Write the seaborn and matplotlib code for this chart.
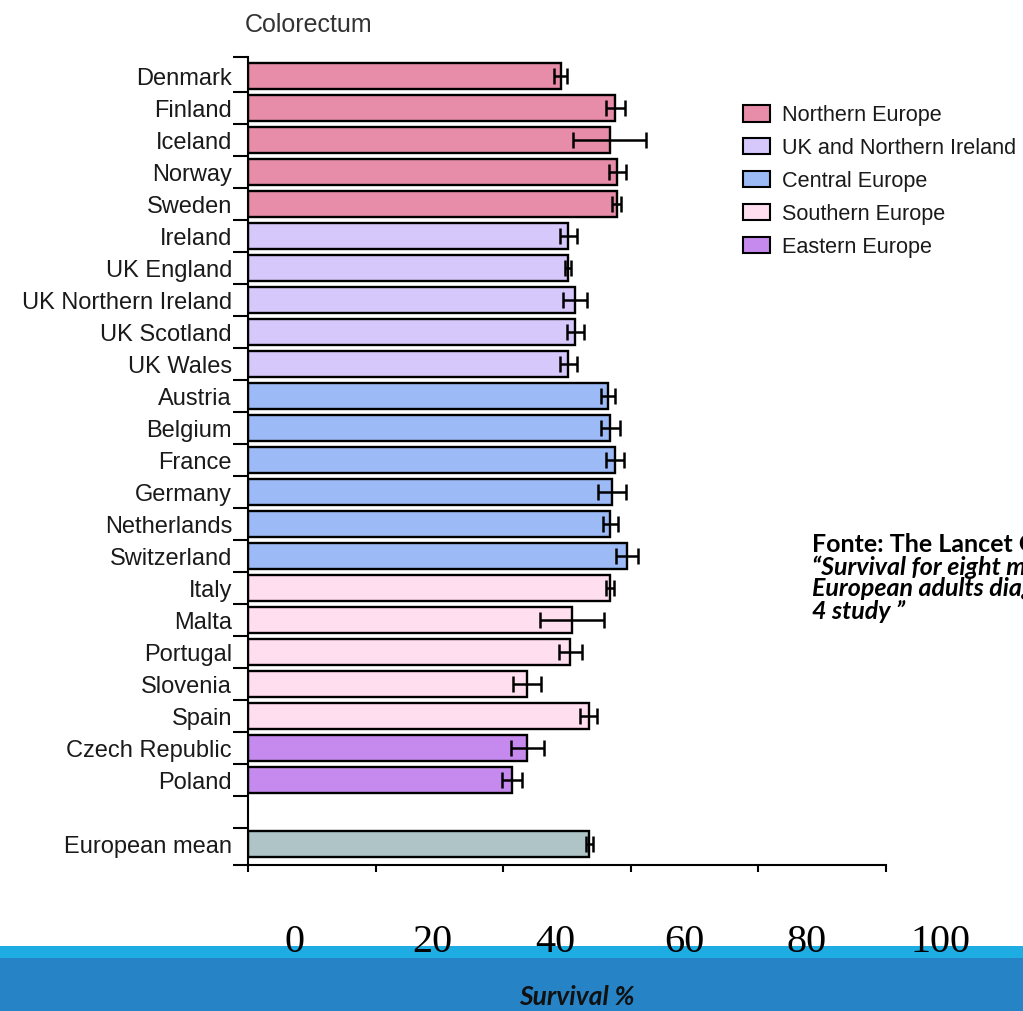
import matplotlib
matplotlib.use("Agg")
import matplotlib.pyplot as plt
from matplotlib.patches import Patch, Rectangle
import seaborn as sns
import pandas as pd

# Five-year relative survival, colorectal cancer (EUROCARE-4)
countries = ["Denmark", "Finland", "Iceland", "Norway", "Sweden",
             "Ireland", "UK England", "UK Northern Ireland", "UK Scotland", "UK Wales",
             "Austria", "Belgium", "France", "Germany", "Netherlands", "Switzerland",
             "Italy", "Malta", "Portugal", "Slovenia", "Spain",
             "Czech Republic", "Poland", "European mean"]
regions = (["Northern Europe"] * 5 + ["UK and Northern Ireland"] * 5 +
           ["Central Europe"] * 6 + ["Southern Europe"] * 5 +
           ["Eastern Europe"] * 2 + ["European mean"])
survival = [49.0, 57.6, 56.7, 57.9, 57.8,
            50.2, 50.2, 51.3, 51.3, 50.2,
            56.4, 56.8, 57.5, 57.1, 56.8, 59.4,
            56.7, 50.8, 50.5, 43.8, 53.4,
            43.8, 41.4, 53.5]
ci_half = [1.0, 1.5, 5.7, 1.3, 0.7,
           1.3, 0.5, 1.9, 1.3, 1.3,
           1.1, 1.5, 1.4, 2.2, 1.2, 1.7,
           0.6, 5.0, 1.8, 2.2, 1.3,
           2.6, 1.6, 0.6]

region_colors = {
    "Northern Europe": "#E78CA9",
    "UK and Northern Ireland": "#D6C8FB",
    "Central Europe": "#9CBAF5",
    "Southern Europe": "#FFDEEF",
    "Eastern Europe": "#C68AEE",
    "European mean": "#AEC4C7",
}
legend_regions = ["Northern Europe", "UK and Northern Ireland", "Central Europe",
                  "Southern Europe", "Eastern Europe"]

x_tick_values = [0, 20, 40, 60, 80, 100]
x_tick_labels = ["0", "20", "40", "60", "80", "100"]

# blank row separates the countries from the European mean
order = countries[:-1] + [" "] + countries[-1:]

df = pd.DataFrame({"country": countries, "region": regions,
                   "survival": survival, "ci": ci_half})

W, H = 1023, 1011
fig = plt.figure(figsize=(W / 100, H / 100), dpi=100)
fig.patch.set_facecolor("white")

# slide footer bands
fig.patches.append(Rectangle((0, 0), 1, 53 / H, transform=fig.transFigure,
                             facecolor="#2683C6", edgecolor="none", zorder=0))
fig.patches.append(Rectangle((0, 53 / H), 1, 12 / H, transform=fig.transFigure,
                             facecolor="#1EADE3", edgecolor="none", zorder=0))

ax = fig.add_axes([248 / W, (H - 865) / H, (886 - 248) / W, (865 - 57) / H])

sns.barplot(data=df, x="survival", y="country", hue="region", order=order,
            palette=region_colors, dodge=False, saturation=1, width=0.83,
            edgecolor="black", linewidth=1.7, errorbar=None, legend=False, ax=ax)

ypos = [order.index(c) for c in df["country"]]
ax.errorbar(df["survival"], ypos, xerr=df["ci"], fmt="none", ecolor="black",
            elinewidth=1.8, capsize=6, capthick=1.8, zorder=5)

ax.set_xlim(0, 100)
ax.set_ylim(24.65, -0.6)
ax.set_xlabel("")
ax.set_ylabel("")

for s in ["top", "right"]:
    ax.spines[s].set_visible(False)
for s in ["left", "bottom"]:
    ax.spines[s].set_linewidth(1.5)
    ax.spines[s].set_color("black")

ax.set_xticks(x_tick_values)
ax.set_xticklabels([])
ax.tick_params(axis="x", direction="out", length=5, width=1.5, color="black")

ax.set_yticks(range(len(order)))
ax.set_yticklabels(order, fontsize=17, family="Liberation Sans", color="#1a1a1a")
ax.set_yticks([-0.6] + [i + 0.5 for i in range(len(order) - 1)] + [24.65], minor=True)
ax.tick_params(axis="y", which="major", length=0, pad=11.5)
ax.tick_params(axis="y", which="minor", length=10.8, width=1.5, color="black",
               direction="out")

# panel title
fig.text(245 / W, 1 - 25 / H, "Colorectum", ha="left", va="center",
         fontsize=18, family="Liberation Sans", color="#333333")

# region legend
handles = [Patch(facecolor=region_colors[r], edgecolor="black", linewidth=1.5)
           for r in legend_regions]
leg = fig.legend(handles, legend_regions, loc="upper left",
                 bbox_to_anchor=(743 / W, 1 - 105 / H), frameon=False,
                 prop={"family": "Liberation Sans", "size": 15.6},
                 handlelength=1.23, handleheight=0.77, handletextpad=0.57,
                 labelspacing=0.55, borderaxespad=0, borderpad=0)
for t in leg.get_texts():
    t.set_color("#1a1a1a")

# source note (runs off the right edge of the slide)
fig.text(812 / W, 1 - 545 / H, "Fonte: The Lancet Oncology", ha="left", va="center",
         fontsize=18, fontweight="bold", family="Lato", color="black")
src_lines = ["\u201cSurvival for eight major cancers and all cancers combined for",
             "European adults diagnosed in 1995\u201399: results of the EUROCARE-",
             "4 study \u201d"]
for i, line in enumerate(src_lines):
    fig.text(812 / W, 1 - (567 + 22 * i) / H, line, ha="left", va="center",
             fontsize=18, fontweight="bold", style="italic", family="Lato",
             color="black")

# axis numbers and title set on the slide footer
label_px = [294, 432, 555, 684, 807, 940]
for lx, lab in zip(label_px, x_tick_labels):
    fig.text(lx / W, 1 - 952 / H, lab, ha="center", va="baseline",
             fontsize=29, family="Liberation Serif", color="black", zorder=3)

fig.text(577 / W, 1 - 997 / H, "Survival %", ha="center", va="center",
         fontsize=19, fontweight="bold", style="italic", family="Lato",
         color="#111111", zorder=3)

fig.savefig("out.png", dpi=100)
